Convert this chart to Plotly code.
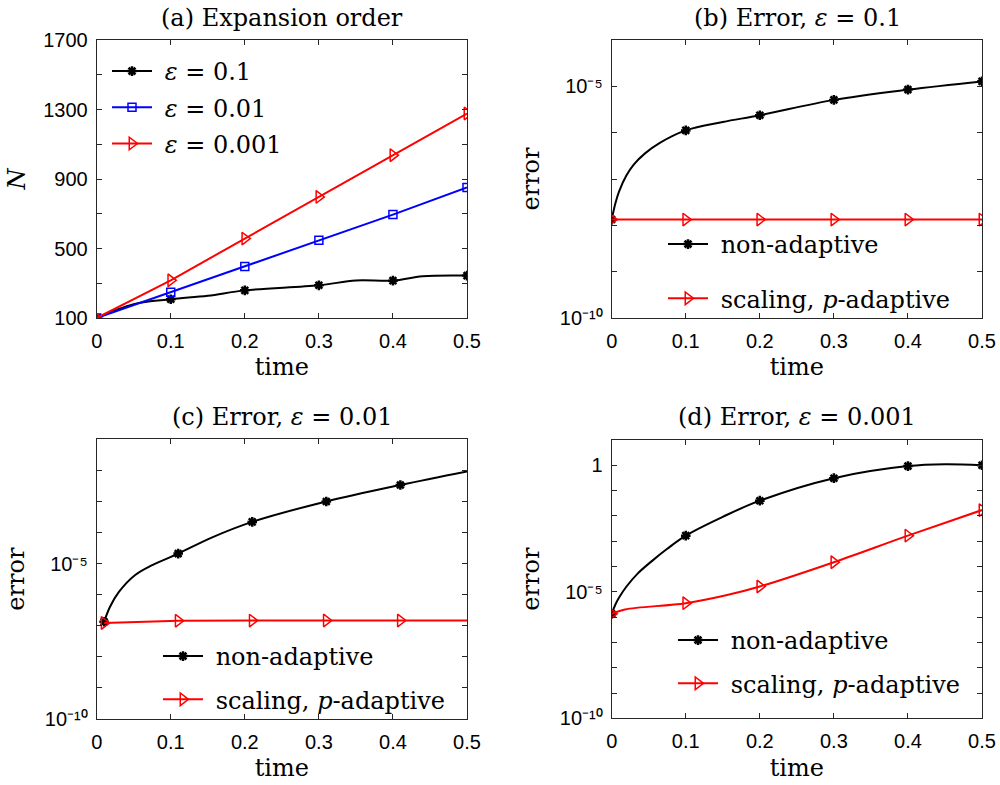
import plotly.graph_objects as go

W, H = 1000, 785

# ---------------- data ----------------
# (a) expansion order N vs time
t_marks = [0, 0.1, 0.2, 0.3, 0.4, 0.5]
t_a_black = [0, 0.05, 0.1, 0.15, 0.2, 0.3, 0.35, 0.4, 0.44, 0.5]
N_black = [100, 180, 208, 228, 259, 288, 316, 315, 340, 344]
N_black_marks = [100, 208, 259, 288, 315, 344]
N_blue = [100, 248, 396, 548, 695, 851]
N_red = [100, 317, 557, 797, 1037, 1277]

# (b) error, eps = 0.1
t_b_black = [0, 0.005, 0.01, 0.02, 0.03, 0.045, 0.065, 0.1, 0.15, 0.2, 0.3, 0.4, 0.5]
err_b_black = [1.33e-8, 2.99e-8, 5.42e-8, 1.20e-7, 2.07e-7, 3.57e-7, 6.03e-7, 1.12e-6, 1.70e-6,
               2.37e-6, 5.1e-6, 8.5e-6, 1.28e-5]
err_b_black_marks = [1.33e-8, 1.12e-6, 2.37e-6, 5.1e-6, 8.5e-6, 1.28e-5]
err_b_red = [1.33e-8, 1.33e-8, 1.33e-8, 1.33e-8, 1.33e-8, 1.33e-8]

# (c) error, eps = 0.01
t_c_black = [0.01, 0.018, 0.03, 0.052, 0.075, 0.11, 0.156, 0.21, 0.31, 0.41, 0.5]
err_c_black = [1.35e-7, 4.1e-7, 1.23e-6, 4.3e-6, 8.9e-6, 2.1e-5, 7.0e-5, 2.2e-4, 1.0e-3, 3.4e-3, 9.3e-3]
t_c_marks = [0.01, 0.11, 0.21, 0.31, 0.41]
err_c_black_marks = [1.35e-7, 2.1e-5, 2.2e-4, 1.0e-3, 3.4e-3]
t_c_red = [0.01, 0.11, 0.21, 0.31, 0.41, 0.5]
err_c_red = [1.23e-7, 1.45e-7, 1.47e-7, 1.48e-7, 1.48e-7, 1.48e-7]

# (d) error, eps = 0.001
t_d_black = [0, 0.005, 0.01, 0.02, 0.035, 0.055, 0.075, 0.1, 0.15, 0.2, 0.3, 0.4, 0.45, 0.5]
err_d_black = [1.36e-6, 3.16e-6, 5.97e-6, 1.62e-5, 5.25e-5, 1.71e-4, 5.0e-4, 1.66e-3, 9.2e-3,
               0.04, 0.31, 0.93, 1.1, 1.0]
err_d_black_marks = [1.36e-6, 1.66e-3, 0.04, 0.31, 0.93, 1.0]
t_d_red = [0, 0.018, 0.1, 0.153, 0.2, 0.3, 0.4, 0.5]
err_d_red = [1.36e-6, 2.0e-6, 3.55e-6, 7.1e-6, 1.62e-5, 1.48e-4, 1.66e-3, 1.7e-2]
err_d_red_marks = [1.36e-6, 3.55e-6, 1.62e-5, 1.48e-4, 1.66e-3, 1.7e-2]

time_ticks = [0, 0.1, 0.2, 0.3, 0.4, 0.5]
time_labels = ["0", "0.1", "0.2", "0.3", "0.4", "0.5"]
N_ticks = [100, 500, 900, 1300, 1700]
N_minor = [300, 700, 1100, 1500]

# ---------------- style ----------------
SERIF = "DejaVu Serif"
SANS = "Liberation Sans"
AXC = "#262626"
BLACK, BLUE, RED = "#000000", "#0000ff", "#ff0000"
LW = 2
NB = "\u00a0"
SUP = str.maketrans("-0123456789", "⁻⁰¹²³⁴⁵⁶⁷⁸⁹")

sty = {
    "black": dict(color=BLACK, symbol="asterisk-open", size=8, lw=2.5),
    "blue": dict(color=BLUE, symbol="square-open", size=8, lw=1.5),
    "red": dict(color=RED, symbol="triangle-right-open", size=11, lw=1.5),
}

fig = go.Figure()


def add_series(xs, ys, mx, my, key, ax, name, legend, shape="linear"):
    s = sty[key]
    xa, ya = ("x", "y") if ax == 1 else (f"x{ax}", f"y{ax}")
    fig.add_trace(go.Scatter(x=xs, y=ys, mode="lines", xaxis=xa, yaxis=ya,
                             line=dict(color=s["color"], width=LW, shape=shape, smoothing=1.0),
                             showlegend=False, hoverinfo="skip"))
    fig.add_trace(go.Scatter(x=mx, y=my, mode="markers", xaxis=xa, yaxis=ya,
                             marker=dict(symbol=s["symbol"], size=s["size"], color=s["color"],
                                         line=dict(color=s["color"], width=s["lw"])),
                             showlegend=False, hoverinfo="skip"))
    fig.add_trace(go.Scatter(x=[None], y=[None], mode="lines+markers", xaxis=xa, yaxis=ya,
                             name=NB + name, legend=legend, legendgroup=legend + name,
                             line=dict(color=s["color"], width=LW),
                             marker=dict(symbol=s["symbol"], size=s["size"], color=s["color"],
                                         line=dict(color=s["color"], width=s["lw"]))))


# (a)
add_series(t_a_black, N_black, t_marks, N_black_marks, "black", 1, "<i>ε</i> = 0.1", "legend", "spline")
add_series(t_marks, N_blue, t_marks, N_blue, "blue", 1, "<i>ε</i> = 0.01", "legend")
add_series(t_marks, N_red, t_marks, N_red, "red", 1, "<i>ε</i> = 0.001", "legend")
# (b)
add_series(t_b_black, err_b_black, t_marks, err_b_black_marks, "black", 2, "non-adaptive", "legend2", "spline")
add_series(t_marks, err_b_red, t_marks, err_b_red, "red", 2, "scaling, <i>p</i>-adaptive", "legend2")
# (c)
add_series(t_c_black, err_c_black, t_c_marks, err_c_black_marks, "black", 3, "non-adaptive", "legend3", "spline")
add_series(t_c_red, err_c_red, t_c_marks, err_c_red[:5], "red", 3, "scaling, <i>p</i>-adaptive", "legend3")
# (d)
add_series(t_d_black, err_d_black, t_marks, err_d_black_marks, "black", 4, "non-adaptive", "legend4", "spline")
add_series(t_d_red, err_d_red, t_marks, err_d_red_marks, "red", 4, "scaling, <i>p</i>-adaptive", "legend4", "spline")


def px_x(a, b):
    return [a / W, b / W]


def px_y(top, bottom):
    return [1 - bottom / H, 1 - top / H]


def log_ticks(lo, hi, labelled):
    vals, txt, minor = [], [], []
    for e in range(lo, hi + 1):
        if e in labelled:
            vals.append(10.0 ** e)
            txt.append("1" if e == 0 else "10" + str(e).translate(SUP))
        else:
            minor.append(10.0 ** e)
    return vals, txt, minor


tfont = dict(family=SERIF, size=24, color="#000000")
minor_style = dict(ticks="inside", ticklen=5, tickcolor=AXC, showgrid=False)
common = dict(showline=True, linecolor=AXC, linewidth=1, mirror="ticks", ticks="inside",
              ticklen=5, tickcolor=AXC, showgrid=False, zeroline=False, automargin=False,
              tickfont=dict(family=SANS, size=20, color="#000000"))

xdom = {1: px_x(96.7, 467), 2: px_x(611.7, 982), 3: px_x(96.7, 467), 4: px_x(611.7, 982)}
ydom = {1: px_y(40, 318), 2: px_y(40, 318), 3: px_y(439.3, 719), 4: px_y(440, 718.3)}

XSTAND = 7
YSTAND = 13

for i in range(1, 5):
    xk = "xaxis" if i == 1 else f"xaxis{i}"
    fig.layout[xk] = dict(domain=xdom[i], anchor="y" if i == 1 else f"y{i}", range=[0, 0.5],
                          tickvals=time_ticks, ticktext=time_labels, ticklabelstandoff=5,
                          title=dict(text="time", font=tfont, standoff=XSTAND), **common)

fig.layout["yaxis"] = dict(domain=ydom[1], anchor="x", range=[100, 1700], tickvals=N_ticks,
                           ticktext=[str(v) for v in N_ticks], ticklabelstandoff=4,
                           title=dict(text="<i>N</i>", font=tfont, standoff=YSTAND - 3),
                           minor=dict(tickvals=N_minor, **minor_style), **common)
for i, (lo, hi, lab) in zip([2, 3, 4], [(-10, -4, [-10, -5]), (-10, -1, [-10, -5]), (-10, 1, [-10, -5, 0])]):
    v, t, m = log_ticks(lo, hi, lab)
    fig.layout[f"yaxis{i}"] = dict(domain=ydom[i], anchor=f"x{i}", type="log", range=[lo, hi],
                                   tickvals=v, ticktext=t, ticklabelstandoff=4,
                                   title=dict(text="error", font=tfont, standoff=YSTAND),
                                   minor=dict(tickvals=m, **minor_style), **common)

legbase = dict(bgcolor="rgba(0,0,0,0)", borderwidth=0, font=tfont, xanchor="left", yanchor="top",
               itemwidth=40, traceorder="grouped", itemclick=False, itemdoubleclick=False)
fig.update_layout(
    legend=dict(x=107 / W, y=1 - 49 / H, tracegroupgap=2, **legbase),
    legend2=dict(x=663 / W, y=1 - 222 / H, tracegroupgap=20, **legbase),
    legend3=dict(x=158 / W, y=1 - 634 / H, tracegroupgap=9, **legbase),
    legend4=dict(x=673 / W, y=1 - 618 / H, tracegroupgap=9, **legbase),
)

ann = []
titles = [
    ("(a) Expansion order", 282, 18),
    ("(b) Error, <i>ε</i> = 0.1", 797, 18),
    ("(c) Error, <i>ε</i> = 0.01", 282, 417),
    ("(d) Error, <i>ε</i> = 0.001", 797, 417),
]
for txt, cx, cy in titles:
    ann.append(dict(text=txt, x=cx / W, y=1 - cy / H, xref="paper", yref="paper",
                    showarrow=False, font=tfont, xanchor="center", yanchor="middle"))

fig.update_layout(width=W, height=H, margin=dict(l=0, r=0, t=0, b=0, autoexpand=False),
                  paper_bgcolor="white", plot_bgcolor="white", annotations=ann,
                  template="none", font=dict(family=SANS, color="#000000"))

fig.write_html("out.html", config={"displayModeBar": False},
               post_script="document.body.style.margin='0';")
